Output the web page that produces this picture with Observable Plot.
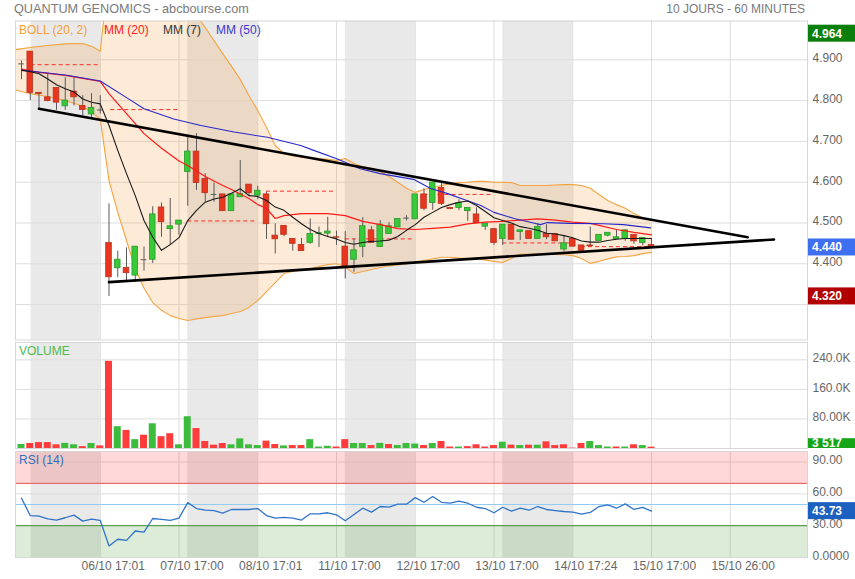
<!DOCTYPE html>
<html>
<head>
<meta charset="utf-8">
<script src="https://cdn.jsdelivr.net/npm/d3@7"></script>
<script src="https://cdn.jsdelivr.net/npm/@observablehq/plot@0.6"></script>
<style>
  body { margin: 0; background: #fff; }
  #chart { position: relative; width: 855px; height: 579px; font-family: "Liberation Sans", Arial, sans-serif; }
  #chart svg { position: absolute; left: 0; top: 0; }
  .lbl { position: absolute; font-size: 12px; line-height: 14px; white-space: nowrap; }
</style>
</head>
<body>
<div id="chart"></div>
<script>
// ---- Hourly candles, 06/10 -> 15/10 (index = bar number) ----
const opens = [4.890,4.920,4.819,4.808,4.831,4.786,4.822,4.787,4.766,4.777,
  4.451,4.389,4.390,4.371,4.410,4.410,4.538,4.485,4.496,4.625,
  4.675,4.608,4.570,4.570,4.529,4.563,4.594,4.567,4.570,4.469,
  4.493,4.461,4.446,4.451,4.473,4.474,4.465,4.442,4.410,4.441,
  4.482,4.441,4.473,4.489,4.512,4.509,4.570,4.549,4.586,4.537,
  4.537,4.529,4.521,4.491,4.485,4.461,4.496,4.478,4.480,4.461,
  4.473,4.473,4.435,4.461,4.445,4.445,4.456,4.469,4.461,4.461,
  4.471,4.451,4.446];
const highs = [4.897,4.920,4.819,4.866,4.831,4.856,4.856,4.812,4.817,4.812,
  4.547,4.431,4.439,4.442,4.441,4.540,4.549,4.560,4.506,4.710,
  4.719,4.621,4.598,4.570,4.570,4.653,4.594,4.590,4.576,4.498,
  4.493,4.461,4.462,4.510,4.490,4.514,4.480,4.479,4.461,4.513,
  4.491,4.506,4.501,4.510,4.518,4.570,4.584,4.599,4.600,4.537,
  4.557,4.537,4.537,4.498,4.485,4.496,4.496,4.482,4.480,4.498,
  4.496,4.473,4.469,4.461,4.445,4.490,4.471,4.476,4.482,4.484,
  4.471,4.463,4.462];
const lows = [4.851,4.800,4.780,4.797,4.776,4.776,4.787,4.763,4.754,4.767,
  4.320,4.366,4.359,4.354,4.382,4.401,4.465,4.445,4.470,4.541,
  4.580,4.551,4.551,4.529,4.529,4.563,4.565,4.557,4.460,4.424,
  4.466,4.431,4.431,4.448,4.440,4.464,4.445,4.363,4.379,4.415,
  4.451,4.441,4.473,4.489,4.505,4.509,4.530,4.531,4.543,4.534,
  4.530,4.504,4.500,4.482,4.445,4.445,4.459,4.457,4.461,4.461,
  4.459,4.455,4.430,4.442,4.432,4.443,4.456,4.466,4.461,4.455,
  4.448,4.444,4.438];
const closes = [4.890,4.819,4.816,4.799,4.795,4.800,4.808,4.777,4.782,4.777,
  4.367,4.410,4.377,4.442,4.410,4.521,4.502,4.492,4.506,4.675,
  4.598,4.573,4.570,4.529,4.570,4.571,4.573,4.579,4.497,4.460,
  4.471,4.449,4.431,4.473,4.475,4.479,4.464,4.394,4.433,4.492,
  4.451,4.496,4.492,4.510,4.512,4.570,4.535,4.599,4.547,4.534,
  4.549,4.537,4.500,4.498,4.451,4.496,4.459,4.482,4.461,4.490,
  4.465,4.455,4.450,4.442,4.432,4.443,4.471,4.476,4.465,4.482,
  4.455,4.463,4.440];
const volumes = [10800,13500,16000,16000,10000,14000,10000,5000,13500,7000,
  236000,59000,49000,24000,36000,67000,32000,40000,10000,86000,
  54000,19000,9000,13500,10000,26000,10000,8000,20000,10800,
  7000,8000,8000,24000,4000,6000,4000,24000,13500,13500,
  8000,14000,10800,8000,13500,12000,8000,13500,19000,4000,
  4000,5000,10000,4000,8000,17000,9000,8000,9000,9000,
  18000,8000,10000,1000,13500,19000,8000,4000,4000,4000,
  10000,8000,3517];
const rsi14 = [55.9,39.6,39.0,36.5,35.3,37.5,40.0,34.3,36.2,35.0,
  10.9,17.2,16.2,25.0,24.0,36.8,35.9,35.0,37.2,51.8,
  46.2,44.7,44.3,41.8,45.3,45.3,45.3,46.2,39.6,37.2,
  37.8,37.2,35.3,41.2,41.2,42.2,40.3,34.7,40.6,46.5,
  42.8,48.1,47.5,50.3,50.3,56.5,52.1,57.5,52.1,51.2,
  53.1,51.2,47.4,46.2,42.2,47.4,43.7,46.5,44.6,48.1,
  45.3,44.3,43.4,42.8,40.9,42.5,48.1,49.7,46.5,50.6,
  45.3,47.2,43.73];

// ---- Indicators ----
const mm7 = [4.874,4.871,4.866,4.853,4.839,4.829,4.821,4.804,4.796,4.792,
  4.739,4.678,4.621,4.567,4.506,4.465,4.433,4.447,4.464,4.506,
  4.531,4.551,4.559,4.563,4.573,4.584,4.567,4.565,4.555,4.539,
  4.531,4.514,4.498,4.484,4.474,4.467,4.461,4.452,4.448,4.452,
  4.455,4.456,4.458,4.467,4.482,4.496,4.514,4.526,4.538,4.545,
  4.551,4.554,4.543,4.528,4.513,4.506,4.500,4.491,4.487,4.482,
  4.475,4.473,4.469,4.464,4.456,4.453,4.453,4.457,4.460,4.462,
  4.462,4.462,4.462];
const mm20X = [0,2,5,9,10,12,14,16,18,19,21,23,24,26,27,28,29,30,32,35,37,39,41,43,45,47,49,51,53,55,57,59,61,63,65,66,68,70,72];
const mm20 = [4.877,4.869,4.862,4.847,4.817,4.768,4.719,4.683,4.652,4.641,4.614,4.592,4.582,4.560,4.545,4.536,4.511,4.518,4.523,4.523,4.518,4.504,4.496,4.486,4.484,4.487,4.490,4.498,4.502,4.504,4.507,4.510,4.507,4.502,4.499,4.494,4.484,4.477,4.471];
const mm50X = [0,5.2,9,12.1,14,17.4,20.5,24.3,28.1,29.6,31.9,33.4,36.1,38.7,41,44.8,46.7,48.7,50.9,52.5,54,56.3,58.5,59.3,60.1,62.7,66.5,68.8,71.9];
const mm50 = [4.875,4.862,4.848,4.806,4.780,4.755,4.739,4.723,4.710,4.702,4.690,4.678,4.657,4.633,4.621,4.607,4.585,4.572,4.555,4.543,4.526,4.511,4.500,4.496,4.501,4.499,4.498,4.496,4.488];
const bollX = [-0.7,1,3,5,7,8,9,10,11,12,13,14,15,16,17,18,19,20,21,22,23,24,25,26,27,28,29,30,31,32,33,34,35,36,37,38,39,40,41,42,43,44,45,46,47,48,49,50,51,52,53,54,55,56,57,58,59,60,61,62,63,64,65,66,67,68,69,70,71,72];
const bollUpper = [4.925,4.930,4.935,4.939,4.940,4.933,4.921,
  5.119,5.168,5.193,5.205,5.205,5.193,5.168,5.131,5.082,5.045,
  5.009,4.979,4.947,4.915,4.884,4.852,4.812,4.776,4.734,4.690,
  4.670,4.665,4.661,4.661,4.658,4.656,4.653,4.658,4.646,4.638,
  4.634,4.626,4.614,4.600,4.585,4.575,4.582,4.587,4.592,4.596,
  4.599,4.600,4.602,4.602,4.600,4.600,4.599,4.592,4.592,4.592,
  4.592,4.593,4.594,4.594,4.592,4.585,4.570,4.555,4.545,4.536,
  4.523,4.513,4.506];
const bollLower = [4.826,4.817,4.810,4.800,4.786,4.771,4.755,
  4.604,4.526,4.457,4.388,4.340,4.305,4.286,4.273,4.266,4.261,
  4.265,4.268,4.271,4.273,4.278,4.283,4.293,4.310,4.332,4.354,
  4.376,4.381,4.384,4.388,4.393,4.398,4.400,4.392,4.376,4.381,
  4.386,4.391,4.395,4.397,4.400,4.403,4.408,4.412,4.416,4.416,
  4.414,4.413,4.413,4.409,4.406,4.403,4.413,4.424,4.424,4.424,
  4.424,4.423,4.422,4.420,4.413,4.401,4.406,4.412,4.417,4.418,
  4.420,4.425,4.428];

// Previous session close, drawn across each session
const prevCloseLevel = [4.888,4.778,4.505,4.578,4.461,4.570,4.451,4.442];
const prevCloseFrom  = [1.1,10.2,19,28,37,46,55,64];
const prevCloseTo    = [9.1,18,27,36,45,54,63,72];

// Triangle drawn by hand on the chart
const resistance = [{x: 2, y: 4.780}, {x: 83, y: 4.465}];
const support    = [{x: 10, y: 4.355}, {x: 86, y: 4.4596}];

// ---- Time axis ----
const dayLines  = [9,18,27,36,45,54,63,72,81];
const dayLabels = ["06/10 17:01","07/10 17:00","08/10 17:01","11/10 17:00","12/10 17:00","13/10 17:00","14/10 17:24","15/10 17:00","15/10 26:00"];
const sessionStart = [1.1,19,37,55];
const sessionEnd   = [9,27,45,63];

// ---- Value scales ----
const priceTicks = [4.3,4.4,4.5,4.6,4.7,4.8,4.9];
const priceTickLabels = [4.4,4.5,4.6,4.7,4.8,4.9]; // 4.300 sits under the low tag
const volTicks = [80000,160000,240000];
const volTickLabels = ["80.00K","160.0K","240.0K"];
const rsiTicks = [0,30,60,90];
const rsiTickLabels = ["0.0000","30.00","60.00","90.00"];
const periodHigh = 4.964, periodLow = 4.320;

// ---------------------------------------------------------------
const W = 855, H = 579;
const xDomain = [-0.686, 89.83];
const GREEN = "#38c938", GREEN_EDGE = "#2a9a2a", RED = "#e8361f", RED_EDGE = "#b8321f";
const GRID = "#dddddd", BAND = "#e9e9e9";

const candles = opens.map((o, i) => ({i, open: o, high: highs[i], low: lows[i], close: closes[i]}));
const vols = volumes.map((v, i) => ({i, v, up: i === 0 ? closes[0] >= opens[0] : closes[i] >= closes[i - 1]}));
const rsiPts = rsi14.map((r, i) => ({i, r}));
const boll = bollX.map((x, k) => ({x, up: bollUpper[k], lo: bollLower[k]}));
const sessions = sessionStart.map((a, k) => ({a, b: sessionEnd[k]}));
const prevDays = prevCloseLevel.map((v, k) => ({v, a: prevCloseFrom[k], b: prevCloseTo[k]}));

const baseStyle = {background: "transparent", fontFamily: "'Liberation Sans', Arial, sans-serif", fontSize: "12px", color: "#666", overflow: "visible"};

// Coloured tag in the right gutter showing a value
function valueTag(value, fill, label) {
  return (index, scales, values, dims) => {
    const y = scales.y(value);
    const left = dims.width - dims.marginRight + 1;
    const bottom = dims.height - dims.marginBottom;
    const top = y - 8.5;
    const bot = Math.min(y + 8.5, bottom);
    const g = d3.create("svg:g");
    g.append("rect").attr("x", left).attr("y", top).attr("width", dims.width - left).attr("height", bot - top).attr("fill", fill);
    g.append("text").attr("x", left + 4).attr("y", (top + bot) / 2).attr("dy", "0.36em")
      .attr("text-anchor", "start")
      .attr("fill", "#fff").attr("font-weight", "bold").attr("font-size", 12)
      .attr("font-family", "'Liberation Sans', Arial, sans-serif").text(label);
    return g.node();
  };
}

function sessionMarks(yDom) {
  return [
    Plot.rect(sessions, {x1: "a", x2: "b", y1: yDom[0], y2: yDom[1], fill: BAND}),
    Plot.ruleX(dayLines, {stroke: GRID})
  ];
}

// ---- Price panel ----
const priceDom = [4.2132, 4.9951];
const up = candles.filter(d => d.close > d.open);
const down = candles.filter(d => d.close < d.open);
const flat = candles.filter(d => d.close === d.open);
const price = Plot.plot({
  width: W, height: H, marginLeft: 15, marginRight: 48, marginTop: 20.5, marginBottom: H - 339.5,
  style: baseStyle,
  x: {domain: xDomain, axis: null},
  y: {domain: priceDom, axis: null},
  marks: [
    ...sessionMarks(priceDom),
    Plot.ruleY(priceTicks, {stroke: GRID}),
    Plot.areaY(boll, {x: "x", y1: "lo", y2: "up", fill: "#f39a38", fillOpacity: 0.2, clip: true}),
    Plot.line(boll, {x: "x", y: "up", stroke: "#f5a442", strokeWidth: 1.1, clip: true}),
    Plot.line(boll, {x: "x", y: "lo", stroke: "#f5a442", strokeWidth: 1.1, clip: true}),
    Plot.ruleY(prevDays, {y: "v", x1: "a", x2: "b", stroke: "#ff2a2a", strokeDasharray: "4,3"}),
    Plot.ruleX(candles, {x: "i", y1: "low", y2: "high", stroke: "#5a5a5a"}),
    Plot.rect(up, {x1: d => d.i - 0.32, x2: d => d.i + 0.32, y1: "open", y2: "close", fill: GREEN, stroke: GREEN_EDGE, strokeWidth: 0.8}),
    Plot.rect(down, {x1: d => d.i - 0.32, x2: d => d.i + 0.32, y1: "open", y2: "close", fill: RED, stroke: RED_EDGE, strokeWidth: 0.8}),
    Plot.ruleY(flat, {y: "close", x1: d => d.i - 0.32, x2: d => d.i + 0.32, stroke: "#5a5a5a"}),
    Plot.line(mm20X.map((x, k) => ({x, y: mm20[k]})), {x: "x", y: "y", stroke: "#ff1a1a", strokeWidth: 1.2}),
    Plot.line(mm50X.map((x, k) => ({x, y: mm50[k]})), {x: "x", y: "y", stroke: "#2828c8", strokeWidth: 1.1}),
    Plot.line(mm7.map((y, i) => ({x: i, y})), {x: "x", y: "y", stroke: "#1a1a1a", strokeWidth: 1.1}),
    Plot.line(resistance, {x: "x", y: "y", stroke: "#000", strokeWidth: 2.6}),
    Plot.line(support, {x: "x", y: "y", stroke: "#000", strokeWidth: 2.6}),
    Plot.frame({stroke: "#d6d6d6"}),
    Plot.text(priceTickLabels, {y: d => d, text: d3.format(".3f"), frameAnchor: "right", textAnchor: "start", dx: 5, dy: -1.5, fill: "#666", fontSize: 12}),
    valueTag(periodHigh, "#0b7f0b", d3.format(".3f")(periodHigh)),
    valueTag(closes[closes.length - 1], "#3d6ff0", d3.format(".3f")(closes[closes.length - 1])),
    valueTag(periodLow, "#b00000", d3.format(".3f")(periodLow))
  ]
});

// ---- Volume panel ----
const volDom = [0, 287000];
const spaced = d3.formatLocale({decimal: ".", thousands: " ", grouping: [3], currency: ["", ""]}).format(",");
const volume = Plot.plot({
  width: W, height: H, marginLeft: 15, marginRight: 48, marginTop: 342, marginBottom: H - 448,
  style: baseStyle,
  x: {domain: xDomain, axis: null},
  y: {domain: volDom, axis: null},
  marks: [
    ...sessionMarks(volDom),
    Plot.ruleY(volTicks, {stroke: GRID}),
    Plot.rectY(vols.filter(d => d.up), {x1: d => d.i - 0.4, x2: d => d.i + 0.4, y: "v", fill: "#3cbb3c", clip: true}),
    Plot.rectY(vols.filter(d => !d.up), {x1: d => d.i - 0.4, x2: d => d.i + 0.4, y: "v", fill: "#ff3b3b", clip: true}),
    Plot.frame({stroke: "#d6d6d6"}),
    Plot.text(volTicks, {y: d => d, text: (d, k) => volTickLabels[k], frameAnchor: "right", textAnchor: "start", dx: 5, dy: -1.5, fill: "#666", fontSize: 12}),
    valueTag(volumes[volumes.length - 1], "#16a516", spaced(volumes[volumes.length - 1]))
  ]
});

// ---- RSI panel ----
const rsiDom = [0, 100];
const rsiPanel = Plot.plot({
  width: W, height: H, marginLeft: 15, marginRight: 48, marginTop: 451, marginBottom: H - 557,
  style: baseStyle,
  x: {domain: xDomain, axis: null},
  y: {domain: rsiDom, axis: null},
  marks: [
    ...sessionMarks(rsiDom),
    Plot.ruleY([60, 90], {stroke: GRID}),
    Plot.rect([{a: 70, b: 100}], {x1: xDomain[0], x2: xDomain[1], y1: "a", y2: "b", fill: "rgba(255,0,0,0.15)"}),
    Plot.rect([{a: 0, b: 30}], {x1: xDomain[0], x2: xDomain[1], y1: "a", y2: "b", fill: "rgba(60,150,40,0.18)"}),
    Plot.ruleY([70], {stroke: "#e86a6a", strokeWidth: 1.3}),
    Plot.ruleY([30], {stroke: "#5e9e50", strokeWidth: 1.3}),
    Plot.ruleY([50], {stroke: "#92ccf6", strokeWidth: 1.2}),
    Plot.line(rsiPts, {x: "i", y: "r", stroke: "#2f74c8", strokeWidth: 1.3}),
    Plot.frame({stroke: "#d6d6d6"}),
    Plot.text(rsiTicks, {y: d => d, text: (d, k) => rsiTickLabels[k], frameAnchor: "right", textAnchor: "start", dx: 5, dy: -1.5, fill: "#666", fontSize: 12}),
    Plot.text(dayLines, {x: d => d, text: (d, k) => dayLabels[k], frameAnchor: "bottom", dx: 13, dy: 12, fill: "#666", fontSize: 12}),
    valueTag(rsi14[rsi14.length - 1], "#1c60c0", d3.format(".2f")(rsi14[rsi14.length - 1]))
  ]
});

const chart = document.getElementById("chart");
chart.append(price, volume, rsiPanel);

// Header and panel captions
function label(text, left, top, color, right, size) {
  const el = document.createElement("div");
  el.className = "lbl";
  el.textContent = text;
  el.style.top = top + "px";
  if (right != null) el.style.right = right + "px"; else el.style.left = left + "px";
  if (size) el.style.fontSize = size + "px";
  el.style.color = color;
  chart.appendChild(el);
}
label("QUANTUM GENOMICS - abcbourse.com", 14, 1.5, "#7a7a7a", null, 12.7);
label("10 JOURS - 60 MINUTES", null, 1.5, "#7a7a7a", 50);
label("BOLL (20, 2)", 19, 22.5, "#f5a030");
label("MM (20)", 104, 22.5, "#ff2020");
label("MM (7)", 163, 22.5, "#333333");
label("MM (50)", 216, 22.5, "#3a3acc");
label("VOLUME", 19, 343.5, "#4cbb4c");
label("RSI (14)", 19, 453, "#2f6fbf");
</script>
</body>
</html>
